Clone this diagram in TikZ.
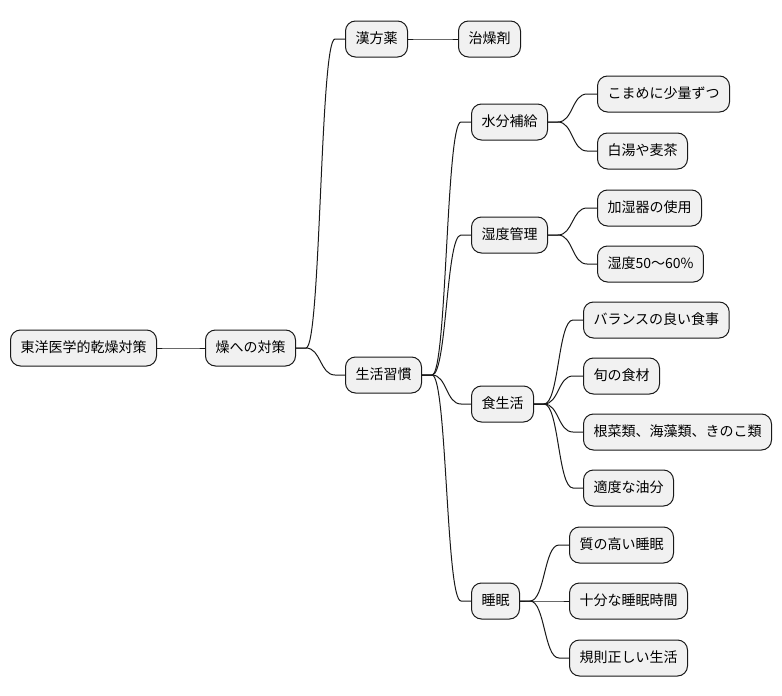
\documentclass[tikz,border=0pt]{standalone}
\usepackage{fontspec}
\setmainfont{Noto Sans CJK JP}
\usetikzlibrary{positioning}

\newcommand{\linkto}[2]{\draw[branch] (#1.east) -- ++(10,0) .. controls +(15,0) and +(-15,0) .. ([xshift=-10pt]#2.west) -- (#2.west);}

\begin{document}
\begin{tikzpicture}[
        x=1pt, y=-1pt,
        topic/.style={draw=black!90, fill=black!5.5, line width=1pt, rounded corners=10pt, minimum height=36pt, inner xsep=10pt, text height=11pt, text depth=3pt, font=\fontsize{14pt}{16pt}\selectfont, anchor=west},
        branch/.style={draw=black!90, line width=1pt}
    ]
        \useasboundingbox (0,0) rectangle (782,696);

        % Root and first level
        \node[topic] (root) at (10,348) {東洋医学的乾燥対策};
        \node[topic] (taisaku) at (205,348) {燥への対策};
        \node[topic] (kampo) at (345,39) {漢方薬};
        \node[topic] (chisozai) at (458,39) {治燥剤};
        \node[topic] (seikatsu) at (345,375) {生活習慣};

        % Habits
        \node[topic] (suibun) at (471,122) {水分補給};
        \node[topic] (komame) at (597,94) {こまめに少量ずつ};
        \node[topic] (sayu) at (597,151) {白湯や麦茶};
        \node[topic] (shitsudo) at (471,235) {湿度管理};
        \node[topic] (kashitsu) at (597,208) {加湿器の使用};
        \node[topic] (shitsudo50) at (597,264) {湿度50〜60\%};
        \node[topic] (shoku) at (471,404) {食生活};
        \node[topic] (balance) at (583,320) {バランスの良い食事};
        \node[topic] (shun) at (583,376) {旬の食材};
        \node[topic] (konsai) at (583,432) {根菜類、海藻類、きのこ類};
        \node[topic] (yubun) at (583,488) {適度な油分};
        \node[topic] (suimin) at (471,601) {睡眠};
        \node[topic] (shitsu) at (569,545) {質の高い睡眠};
        \node[topic] (jubun) at (569,601) {十分な睡眠時間};
        \node[topic] (kisoku) at (569,658) {規則正しい生活};

        % Branches
        \linkto{root}{taisaku}
        \linkto{taisaku}{kampo}
        \linkto{kampo}{chisozai}
        \linkto{taisaku}{seikatsu}
        \linkto{seikatsu}{suibun}
        \linkto{seikatsu}{shitsudo}
        \linkto{seikatsu}{shoku}
        \linkto{seikatsu}{suimin}
        \linkto{suibun}{komame}
        \linkto{suibun}{sayu}
        \linkto{shitsudo}{kashitsu}
        \linkto{shitsudo}{shitsudo50}
        \linkto{shoku}{balance}
        \linkto{shoku}{shun}
        \linkto{shoku}{konsai}
        \linkto{shoku}{yubun}
        \linkto{suimin}{shitsu}
        \linkto{suimin}{jubun}
        \linkto{suimin}{kisoku}
    \end{tikzpicture}
\end{document}
